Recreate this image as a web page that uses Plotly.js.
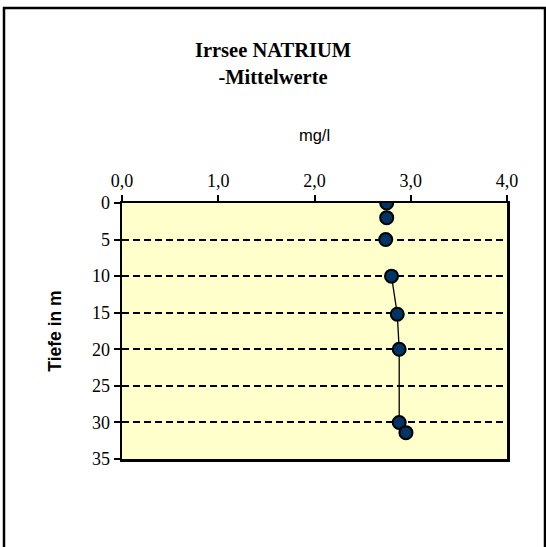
<!DOCTYPE html>
<html><head><meta charset="utf-8">
<script src="https://cdn.plot.ly/plotly-3.0.1.min.js"></script>
<style>body{margin:0;padding:0;background:#fff}#chart{width:546px;height:547px}</style>
</head><body><div id="chart"></div>
<script>
const depths = [0, 2, 5, 10, 15.2, 20, 30, 31.4];
const natrium = [2.75, 2.75, 2.74, 2.80, 2.86, 2.88, 2.88, 2.95];
const xTicks = [0, 1, 2, 3, 4];
const xTickLabels = ['0,0', '1,0', '2,0', '3,0', '4,0'];
const yTicks = [0, 5, 10, 15, 20, 25, 30, 35];

const lineStart = 3;
const traces = [
  {x: natrium.slice(lineStart), y: depths.slice(lineStart), mode: 'lines', type: 'scatter',
   line: {color: '#000', width: 1.3}, hoverinfo: 'skip', showlegend: false},
  {x: natrium, y: depths, mode: 'markers', type: 'scatter',
   marker: {size: 13, color: '#003366', line: {color: '#000', width: 2}}, showlegend: false}
];
const serif = 'Liberation Serif';
const sans = 'Liberation Sans';
const layout = {
  width: 546, height: 547,
  font: {family: serif, color: '#000'},
  margin: {l: 122, r: 39, t: 203, b: 88},
  paper_bgcolor: '#fff', plot_bgcolor: '#FFFFCC',
  title: {text: '<b>Irrsee NATRIUM<br>-Mittelwerte</b>', font: {family: serif, size: 20.5},
          x: 0.5, xref: 'container', y: 0.895, yref: 'container', yanchor: 'top'},
  xaxis: {side: 'top', range: [0, 4], tickvals: xTicks, ticktext: xTickLabels,
          ticks: 'outside', ticklen: 6, tickwidth: 2, tickcolor: '#000',
          showline: true, linecolor: '#000', linewidth: 2.5, mirror: true,
          showgrid: false, zeroline: false,
          tickfont: {family: serif, size: 18},
          title: {text: 'mg/l', font: {family: sans, size: 16.5}, standoff: 26}},
  yaxis: {range: [35, 0], tickvals: yTicks, ticks: 'outside', ticklen: 6, tickwidth: 2, tickcolor: '#000',
          showline: true, linecolor: '#000', linewidth: 2.5, mirror: true,
          showgrid: true, gridcolor: '#000', gridwidth: 2, griddash: '7px,4px', zeroline: false,
          tickfont: {family: serif, size: 18},
          title: {text: '<b>Tiefe in m</b>', font: {family: sans, size: 17.5}, standoff: 26}},
  shapes: [{type: 'rect', xref: 'paper', yref: 'paper',
            x0: (4 - 122) / 385, x1: (545 - 122) / 385,
            y0: (459 - 550) / 256, y1: (459 - 8) / 256,
            line: {color: '#000', width: 2.5}, fillcolor: 'rgba(0,0,0,0)', layer: 'below'}]
};
Plotly.newPlot('chart', traces, layout, {displayModeBar: false, staticPlot: true});
</script></body></html>
